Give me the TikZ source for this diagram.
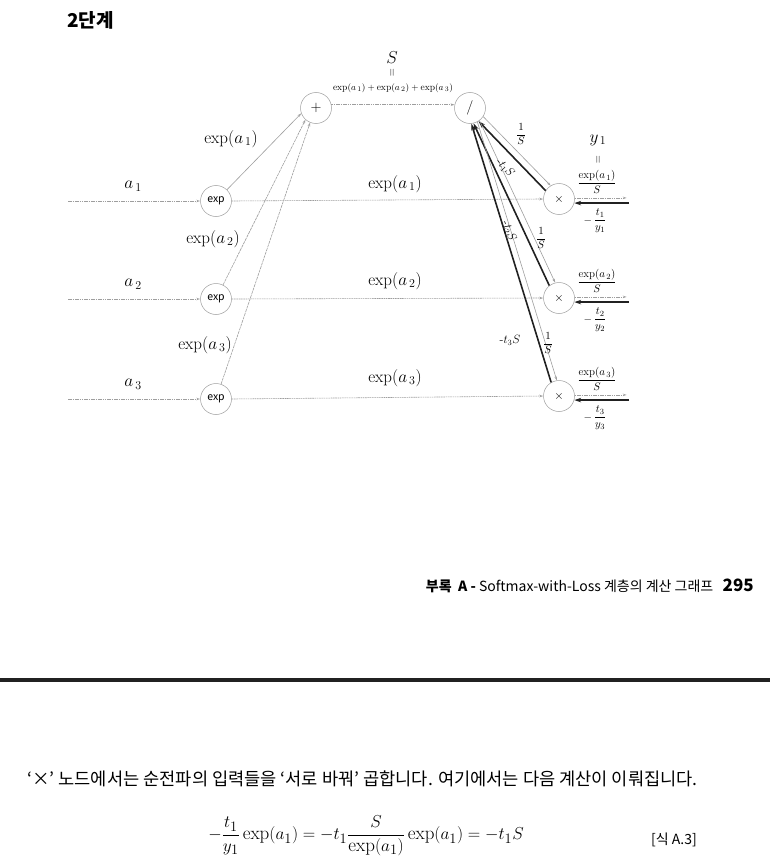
\documentclass[tikz,border=0pt]{standalone}
\usepackage{amsmath}
\usepackage{fontspec}
\newfontfamily\kr{Noto Sans CJK KR}
\usetikzlibrary{arrows.meta,calc}
\definecolor{lg}{gray}{0.62}
\definecolor{dk}{gray}{0.13}
\begin{document}
\begin{tikzpicture}[x=1pt,y=-1pt,
  op/.style={circle,draw=lg,line width=0.5pt,minimum size=31pt,inner sep=0pt,fill=white,font=\kr\fontsize{10.5}{12}\selectfont},
  fwd/.style={draw=lg,line width=0.6pt,dash pattern=on 1.6pt off 0.7pt,-{Stealth[length=4pt,width=2.6pt,open]}},
  fwds/.style={draw=lg,line width=0.6pt,-{Stealth[length=4pt,width=2.6pt,open]}},
  fwdd/.style={draw=lg,line width=0.6pt,dash pattern=on 3pt off 0.8pt,-{Stealth[length=4pt,width=2.6pt,open]}},
  bwd/.style={draw=dk,line width=1.6pt,-{Stealth[length=7pt,width=4.5pt]}},
  lbl/.style={font=\fontsize{17}{19}\selectfont,inner sep=0pt},
  smlbl/.style={font=\fontsize{11}{13}\selectfont,inner sep=0pt},
  rlbl/.style={font=\fontsize{12}{14}\selectfont,inner sep=0pt},
  krtext/.style={font=\kr\fontsize{17.6}{20}\selectfont,inner sep=0pt}
]
\useasboundingbox (0,0) rectangle (770,864);

% title
\node[font=\kr\bfseries\fontsize{19}{22}\selectfont,anchor=west,inner sep=0pt] (title) at (67,20) {2단계};

% nodes
\node[op,font=\fontsize{15}{16}\selectfont] (plus) at (316,108) {$+$};
\node[op,font=\fontsize{15}{16}\selectfont] (div) at (470,108) {$/$};
\node[op] (e1) at (216,201) {exp};
\node[op] (e2) at (216,299) {exp};
\node[op] (e3) at (216,399) {exp};
\node[op,font=\fontsize{13}{14}\selectfont] (m1) at (559,199) {$\times$};
\node[op,font=\fontsize{13}{14}\selectfont] (m2) at (559,298) {$\times$};
\node[op,font=\fontsize{13}{14}\selectfont] (m3) at (559,396) {$\times$};

% input lines
\coordinate (in1) at (68,201);
\coordinate (in2) at (68,299);
\coordinate (in3) at (68,399);
\draw[fwd] (in1) -- (e1.west);
\draw[fwd] (in2) -- (e2.west);
\draw[fwd] (in3) -- (e3.west);
\node[lbl] (la1) at (133,186) {$a_{\,1}$};
\node[lbl] (la2) at (133,284) {$a_{\,2}$};
\node[lbl] (la3) at (133,384) {$a_{\,3}$};

% exp -> x lines
\draw[fwd] (e1.east) -- (m1.west);
\draw[fwd] (e2.east) -- (m2.west);
\draw[fwd] (e3.east) -- (m3.west);
\node[lbl] (le1) at (395,184) {$\exp(a_{\,1})$};
\node[lbl] (le2) at (395,281) {$\exp(a_{\,2})$};
\node[lbl] (le3) at (395,378) {$\exp(a_{\,3})$};

% exp -> + lines
\draw[fwds] (e1) -- (plus.200);
\draw[fwdd] (e2) -- (plus.228);
\draw[fwdd] (e3) -- (plus.248);
\node[lbl] (d1) at (231,139) {$\exp(a_{\,1})$};
\node[lbl] (d2) at (213,239) {$\exp(a_{\,2})$};
\node[lbl] (d3) at (205,345) {$\exp(a_{\,3})$};

% + -> /
\draw[fwd] (plus.12) -- (div.168);
\node[font=\fontsize{19}{21}\selectfont,inner sep=0pt] (S) at (392,58) {$S$};
\node[font=\fontsize{7}{8}\selectfont,inner sep=0pt] (eqS) at (392,73) {\textbf{||}};
\node[font=\fontsize{9.5}{11}\selectfont,inner sep=0pt] (sum) at (393,88) {$\exp(a_{\,1})+\exp(a_{\,2})+\exp(a_{\,3})$};

% / -> x  (forward, gray) and x -> / (backward, black)
\draw[fwds] (div.-33) -- (m1.122);
\draw[bwd] (m1.148) -- (div.-57);
\draw[fwds] (div.-53) -- (m2.104);
\draw[bwd] (m2.128) -- (div.-77);
\draw[fwds] (div.-62) -- (m3.98);
\draw[bwd] (m3.120) -- (div.-85);

\node[smlbl] (s1) at (521,134) {$\dfrac{1}{S}$};
\node[rlbl,rotate=-48] (t1) at (505,168) {-$t_1S$};
\node[smlbl] (s2) at (541,238) {$\dfrac{1}{S}$};
\node[rlbl,rotate=-68] (t2) at (509,231) {-$t_2S$};
\node[smlbl] (s3) at (548,343) {$\dfrac{1}{S}$};
\node[rlbl] (t3) at (510,340) {-$t_3S$};

% right side arrows
\coordinate (r1a) at ($(m1.4)+(52,0)$);
\coordinate (r1b) at ($(m1.-15)+(55,0)$);
\coordinate (r2a) at ($(m2.4)+(52,0)$);
\coordinate (r2b) at ($(m2.-15)+(55,0)$);
\coordinate (r3a) at ($(m3.4)+(52,0)$);
\coordinate (r3b) at ($(m3.-15)+(55,0)$);
\draw[fwd] (m1.4) -- (r1a);
\draw[bwd] (r1b) -- (m1.-15);
\draw[fwd] (m2.4) -- (r2a);
\draw[bwd] (r2b) -- (m2.-15);
\draw[fwd] (m3.4) -- (r3a);
\draw[bwd] (r3b) -- (m3.-15);

% right labels
\node[lbl] (y1) at (598,140) {$y_{\,1}$};
\node[font=\fontsize{7}{8}\selectfont,inner sep=0pt] (eqy) at (598,160) {\textbf{||}};
\node[smlbl] (f1) at (597,182) {$\dfrac{\exp(a_{\,1})}{S}$};
\node[smlbl] (g1) at (595,221) {$-\,\dfrac{t_1}{y_1}$};
\node[smlbl] (f2) at (597,281) {$\dfrac{\exp(a_{\,2})}{S}$};
\node[smlbl] (g2) at (595,320) {$-\,\dfrac{t_2}{y_2}$};
\node[smlbl] (f3) at (597,379) {$\dfrac{\exp(a_{\,3})}{S}$};
\node[smlbl] (g3) at (595,418) {$-\,\dfrac{t_3}{y_3}$};

% footer
\node[anchor=east,inner sep=0pt,font=\kr\fontsize{14}{16}\selectfont] (foot) at (754,586)
  {{\bfseries 부록\ \ A -} Softmax-with-Loss 계층의 계산 그래프\ \ \ {\bfseries\fontsize{17}{20}\selectfont 295}};

% rule
\coordinate (rl) at (0,680);
\coordinate (rr) at (770,680);
\draw[line width=4.5pt,draw=dk] (rl) -- (rr);

% body text
\node[krtext,anchor=west] (body) at (27,779) {‘×’ 노드에서는 순전파의 입력들을 ‘서로 바꿔’ 곱합니다. 여기에서는 다음 계산이 이뤄집니다.};
\node[font=\fontsize{19}{22}\selectfont,inner sep=0pt] (eq) at (366,836)
  {$-\dfrac{t_1}{y_1}\exp(a_1)=-t_1\dfrac{S}{\exp(a_1)}\exp(a_1)=-t_1S$};
\node[font=\kr\fontsize{14}{16}\selectfont,inner sep=0pt] (eqn) at (674,840) {[식 A.3]};
\end{tikzpicture}
\end{document}
